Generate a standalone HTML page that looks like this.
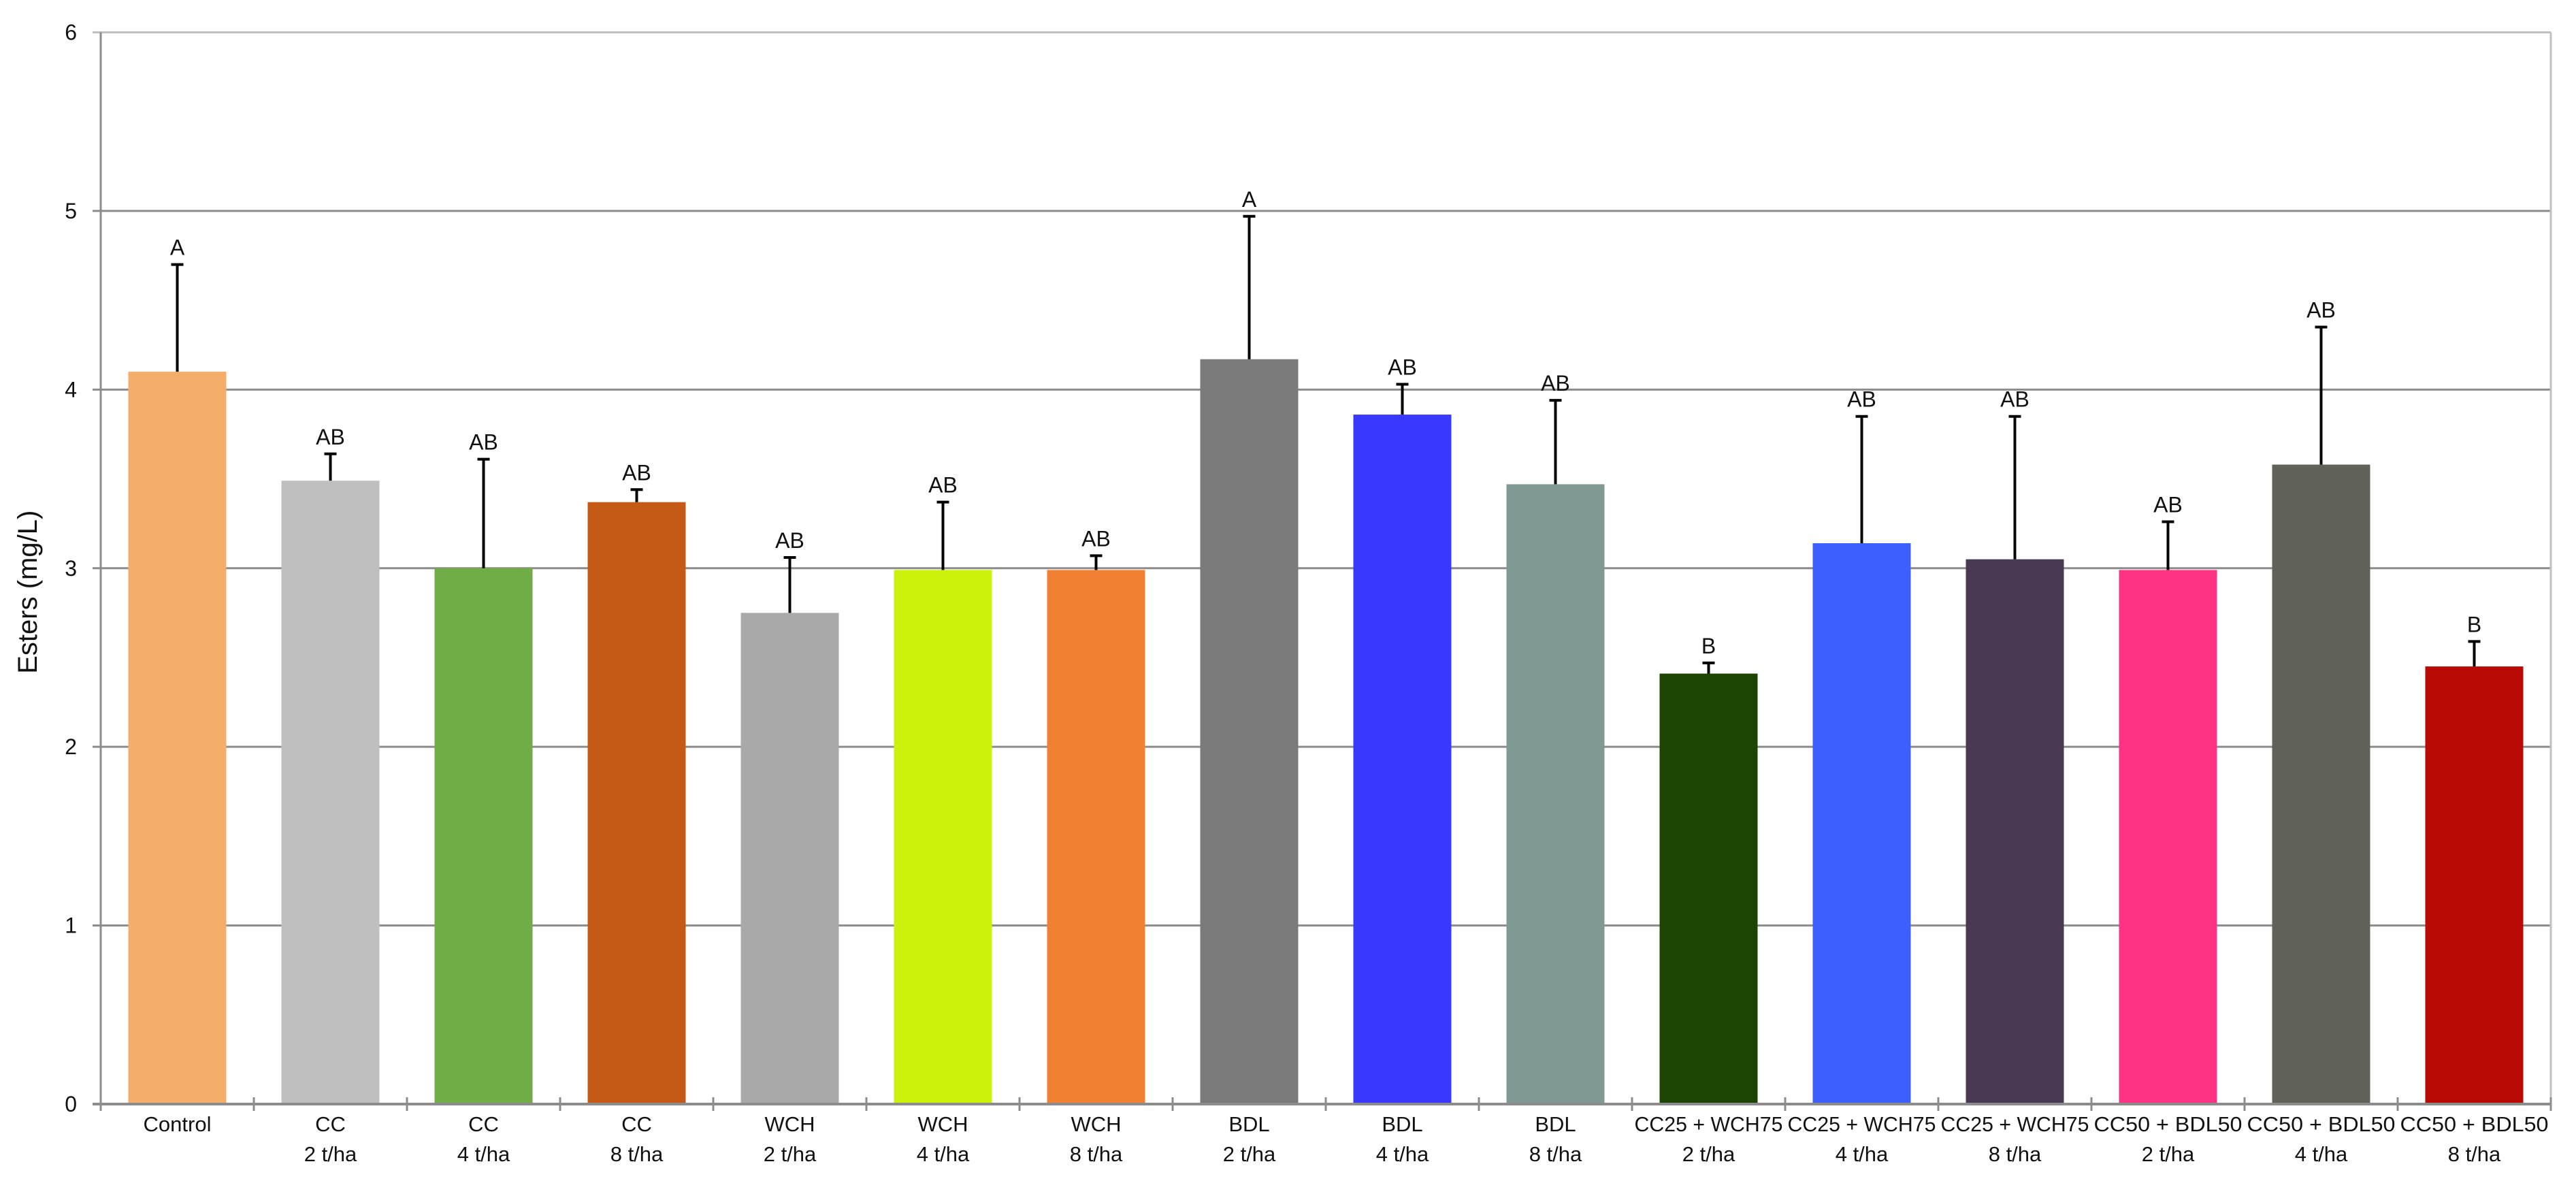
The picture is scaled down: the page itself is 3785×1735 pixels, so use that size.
<!DOCTYPE html>
<html><head><meta charset="utf-8"><style>
body{margin:0;background:#fff}
svg text{font-family:"Liberation Sans",sans-serif;fill:#111}
</style></head><body>
<svg id="chart" width="3785" height="1730" xmlns="http://www.w3.org/2000/svg"></svg>
<script>
const categories1=["Control","CC","CC","CC","WCH","WCH","WCH","BDL","BDL","BDL","CC25 + WCH75","CC25 + WCH75","CC25 + WCH75","CC50 + BDL50","CC50 + BDL50","CC50 + BDL50"];
const categories2=["","2 t/ha","4 t/ha","8 t/ha","2 t/ha","4 t/ha","8 t/ha","2 t/ha","4 t/ha","8 t/ha","2 t/ha","4 t/ha","8 t/ha","2 t/ha","4 t/ha","8 t/ha"];
const values=[4.1,3.49,3.0,3.37,2.75,2.99,2.99,4.17,3.86,3.47,2.41,3.14,3.05,2.99,3.58,2.45];
const errTops=[4.7,3.64,3.61,3.44,3.06,3.37,3.07,4.97,4.03,3.94,2.47,3.85,3.85,3.26,4.35,2.59];
const letters=["A","AB","AB","AB","AB","AB","AB","A","AB","AB","B","AB","AB","AB","AB","B"];
const colors=["#f4ae69","#bfbfbf","#70ad47","#c55a16","#a9a9a9","#ccf20c","#f28033","#7a7a7a","#3838ff","#809995","#1c4504","#3d5fff","#473a52","#ff3383","#606158","#b90a05"];
const yTicks=[0,1,2,3,4,5,6];
const NS="http://www.w3.org/2000/svg";
const svg=document.getElementById('chart');
const X0=148,X1=3748,Y0=1622,Y6=47.5,YMAX=6;
const bw=(X1-X0)/categories1.length;
function y(v){return Y0-(v/YMAX)*(Y0-Y6);}
function xc(i){return X0+bw*(i+0.5);}
function el(t,a,txt){const e=document.createElementNS(NS,t);for(const k in a)e.setAttribute(k,a[k]);if(txt!==undefined)e.textContent=txt;svg.appendChild(e);return e;}
yTicks.forEach(t=>{
  const g=el('line',{x1:X0-12,x2:X1,y1:y(t),y2:y(t),stroke:t===6?'#c0c0c0':'#8c8c8c','stroke-width':3});
  
  
  const l=el('text',{x:X0-35,y:y(t)+11,'font-size':32,'text-anchor':'end'},String(t));
  
  
});
const ax=el('line',{x1:X0,x2:X0,y1:Y6,y2:Y0+10,stroke:'#8c8c8c','stroke-width':3});


el('line',{x1:X1,x2:X1,y1:Y6,y2:Y0,stroke:'#c0c0c0','stroke-width':3});
values.forEach((v,i)=>{
  const c=xc(i),w=144;
  const r=el('rect',{x:c-w/2,y:y(v),width:w,height:Y0-y(v),fill:colors[i]});
  
  
  const e=el('path',{d:`M${c} ${y(v)}V${y(errTops[i])}M${c-9} ${y(errTops[i])}H${c+9}`,stroke:'#000','stroke-width':4,fill:'none'});
  
  
  const lt=el('text',{x:c,y:y(errTops[i])-14,'font-size':32,'text-anchor':'middle'},letters[i]);
  
  
  const l1=el('text',{x:c,y:1662,'font-size':31,'text-anchor':'middle'},categories1[i]);
  if(categories1[i].length>8){l1.setAttribute('textLength',218);l1.setAttribute('lengthAdjust','spacingAndGlyphs');}
  
  
  const l2=el('text',{x:c,y:1706,'font-size':31,'text-anchor':'middle'},categories2[i]);
  
  
});
const xa=el('line',{x1:X0-12,x2:X1,y1:Y0,y2:Y0,stroke:'#8c8c8c','stroke-width':4});


for(let i=0;i<=categories1.length;i++){el('line',{x1:X0+bw*i,x2:X0+bw*i,y1:Y0-10,y2:Y0+10,stroke:'#8c8c8c','stroke-width':3});}
const yt=el('text',{x:0,y:0,'font-size':40,'text-anchor':'middle',transform:`translate(54 ${(Y0+Y6)/2+35}) rotate(-90)`},'Esters (mg/L)');


</script>
</body></html>
